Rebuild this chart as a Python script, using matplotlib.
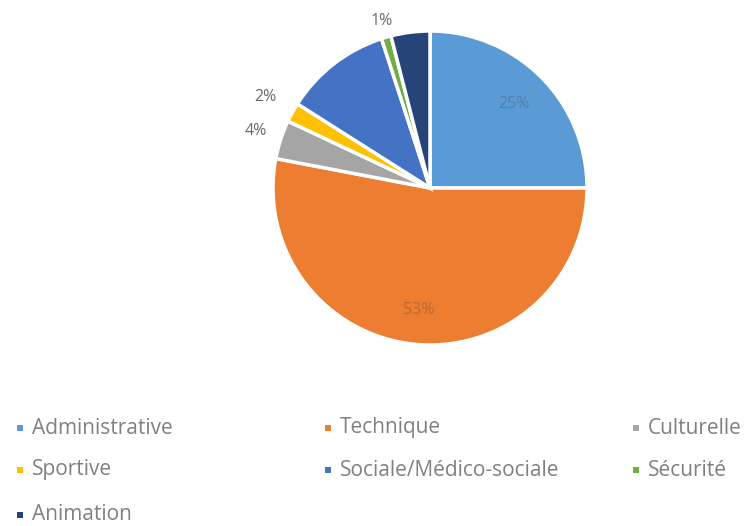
import numpy as np
import matplotlib
matplotlib.use("Agg")
import matplotlib.pyplot as plt

categories = ["Administrative", "Technique", "Culturelle", "Sportive",
              "Sociale/Médico-sociale", "Sécurité", "Animation"]
shares = [25, 53, 4, 2, 11, 1, 4]
colors = ["#5B9BD5", "#ED7D31", "#A5A5A5", "#FFC000", "#4472C4", "#70AD47", "#264478"]
# labels that are drawn, and at which radius (fraction of pie radius)
label_shown = [True, True, True, True, False, True, False]
label_dist = [0.76, 0.78, 1.17, 1.2, 0.7, 1.11, 0.7]

plt.rcParams["font.family"] = ["Open Sans", "DejaVu Sans"]

W, H = 750, 526
fig = plt.figure(figsize=(W / 100, H / 100), dpi=100)
fig.patch.set_facecolor("white")

cx, cy, R = 430, 188, 157
ax = fig.add_axes([(cx - R) / W, (H - cy - R) / H, 2 * R / W, 2 * R / H])
wedges, _ = ax.pie(shares, colors=colors, startangle=90, counterclock=False,
                   radius=1.0, wedgeprops=dict(edgecolor="white", linewidth=2.5))
ax.set_xlim(-1, 1)
ax.set_ylim(-1, 1)
ax.set_aspect("equal")
ax.axis("off")

for w, v, show, d in zip(wedges, shares, label_shown, label_dist):
    if not show:
        continue
    mid = np.deg2rad((w.theta1 + w.theta2) / 2)
    x, y = d * np.cos(mid), d * np.sin(mid)
    inside = d < 1
    ax.text(x, y, f"{v}%", ha="center", va="center", fontsize=11.5,
            color="#404040" if inside else "#595959",
            alpha=0.3 if inside else 0.9, clip_on=False)

# legend laid out in three columns
lax = fig.add_axes([0, 0, 1, 1])
lax.set_xlim(0, W)
lax.set_ylim(H, 0)
lax.axis("off")
col_x = [20, 328, 636]
row_y = [428, 470, 515]
for i, (name, c) in enumerate(zip(categories, colors)):
    r, k = divmod(i, 3)
    x, y = col_x[k], row_y[r]
    lax.scatter([x], [y], marker="s", s=24, color=c, edgecolors="none")
    lax.text(x + 12, y, name, ha="left", va="center", fontsize=15, color="#808080")

fig.savefig("out.png", dpi=100, facecolor="white")
